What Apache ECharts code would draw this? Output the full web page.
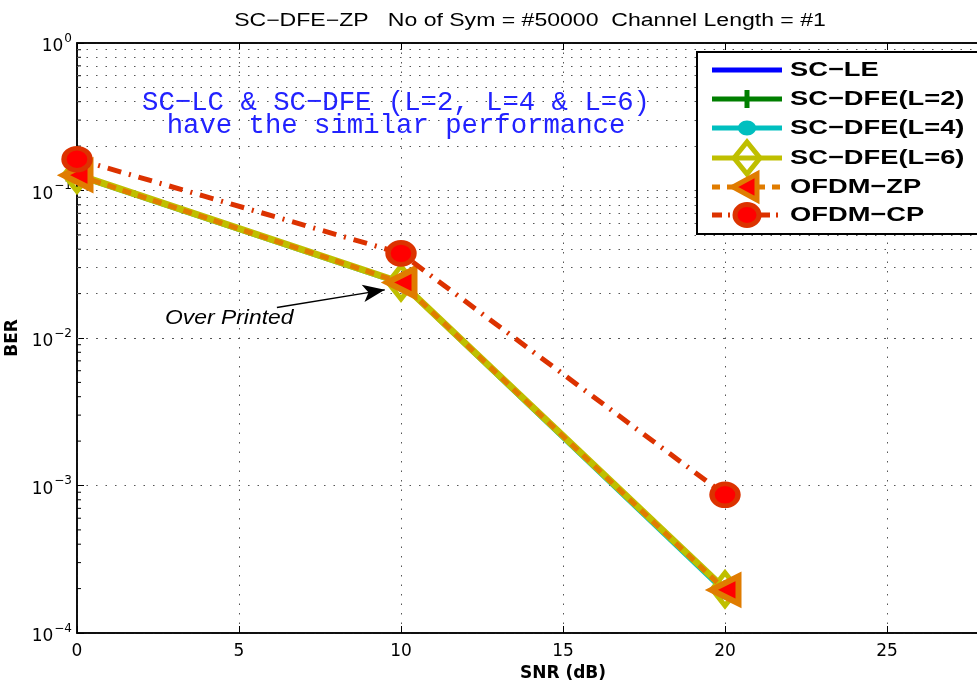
<!DOCTYPE html>
<html>
<head>
<meta charset="utf-8">
<script src="https://cdn.jsdelivr.net/npm/echarts@6/dist/echarts.min.js"></script>
<style>html,body{margin:0;padding:0;background:#fff;overflow:hidden;width:977px;height:684px}#c{width:1100px;height:684px}</style>
</head>
<body>
<div id="c"></div>
<script>
// ---- data ----
const snr = [0, 10, 20];
const scLE   = [0.127, 0.0237, 1.97e-4];
const scDFE2 = [0.127, 0.0237, 1.97e-4];
const scDFE4 = [0.126, 0.0235, 1.90e-4];
const scDFE6 = [0.128, 0.0238, 1.98e-4];
const ofdmZP = [0.127, 0.0238, 1.96e-4];
const ofdmCP = [0.163, 0.0375, 8.65e-4];
const seriesNames = ['SC\u2212LE', 'SC\u2212DFE(L=2)', 'SC\u2212DFE(L=4)', 'SC\u2212DFE(L=6)', 'OFDM\u2212ZP', 'OFDM\u2212CP'];
const xTicks = [0, 5, 10, 15, 20, 25, 30];
const yDecades = [1e-4, 1e-3, 1e-2, 1e-1, 1];
const yExponents = ['\u22124', '\u22123', '\u22122', '\u22121', '0'];
const minorMult = [2, 3, 4, 5, 6, 7, 8, 9];
const arrowFrom = [6.17, 0.0161];
const arrowTo = [9.5, 0.0212];
const titleText = 'SC\u2212DFE\u2212ZP   No of Sym = #50000  Channel Length = #1';
const noteLines = ['SC\u2212LC & SC\u2212DFE (L=2, L=4 & L=6)', 'have the similar performance'];
const overText = 'Over Printed';

const pairs = v => snr.map((x, i) => [x, v[i]]);
const minorVals = [];
yDecades.slice(0, -1).forEach(d => minorMult.forEach(m => minorVals.push(d * m)));

const FONT = '"Liberation Sans", Arial, Helvetica, sans-serif';
const TICKFONT = '"DejaVu Sans", sans-serif';
const dotted = { color: '#555', width: 1, type: [1.5, 8] };

const C = {
  le: '#0000FF', l2: '#007F00', l4: '#00BFBF', l6: '#BFBF00',
  zp: '#E07C00', cp: '#DC3200', red: '#FF0000'
};

// ---- custom legend (graphic) ----
const LX0 = 712, LX1 = 782, LXC = 747, LTX = 790;
const legendY = [70, 99, 128, 158, 187, 215];
const legendEls = [
  { type: 'rect', shape: { x: 697, y: 52, width: 300, height: 182 }, style: { fill: '#fff', stroke: '#000', lineWidth: 2 }, z: 100 }
];
const lineStyles = [
  { stroke: C.le, lineWidth: 5 },
  { stroke: C.l2, lineWidth: 5 },
  { stroke: C.l4, lineWidth: 5 },
  { stroke: C.l6, lineWidth: 5 },
  { stroke: C.zp, lineWidth: 5, lineDash: [8, 7] },
  { stroke: C.cp, lineWidth: 5, lineDash: [10, 6, 2, 6] }
];
legendY.forEach((y, i) => {
  legendEls.push({ type: 'line', shape: { x1: LX0, y1: y, x2: LX1, y2: y }, style: lineStyles[i], z: 101 });
  legendEls.push({ type: 'text', x: LTX, y: y, scaleX: 1.3, z: 103,
    style: { text: seriesNames[i], fontSize: 21, fontWeight: 'bold', fontFamily: FONT, fill: '#000', align: 'left', verticalAlign: 'middle' } });
});
legendEls.push({ type: 'rect', shape: { x: LXC - 2.5, y: legendY[1] - 9, width: 5, height: 18 }, style: { fill: C.l2 }, z: 102 });
legendEls.push({ type: 'ellipse', shape: { cx: LXC, cy: legendY[2], rx: 9, ry: 7.5 }, style: { fill: C.l4 }, z: 102 });
legendEls.push({ type: 'polygon', shape: { points: [[LXC - 13, legendY[3]], [LXC, legendY[3] - 16], [LXC + 13, legendY[3]], [LXC, legendY[3] + 16]] }, style: { fill: 'rgba(255,255,255,0)', stroke: C.l6, lineWidth: 5 }, z: 102 });
legendEls.push({ type: 'polygon', shape: { points: [[LXC - 14, legendY[4]], [LXC + 10, legendY[4] - 13], [LXC + 10, legendY[4] + 13]] }, style: { fill: C.red, stroke: C.zp, lineWidth: 5, lineJoin: 'miter' }, z: 102 });
legendEls.push({ type: 'ellipse', shape: { cx: LXC, cy: legendY[5], rx: 12, ry: 10.5 }, style: { fill: C.red, stroke: C.cp, lineWidth: 5 }, z: 102 });

const chart = echarts.init(document.getElementById('c'));
const option = {
  animation: false,
  backgroundColor: '#fff',
  grid: { left: 77, top: 43, bottom: 51, right: 51, outerBoundsMode: 'none', show: true, borderColor: '#000', borderWidth: 1.5, backgroundColor: 'transparent' },
  xAxis: [{
    type: 'value', min: xTicks[0], max: xTicks[xTicks.length - 1], interval: 5,
    axisLine: { show: true, lineStyle: { color: '#000', width: 1.5 } },
    axisTick: { show: true, inside: true, length: 7, lineStyle: { color: '#000' } },
    axisLabel: { fontSize: 17, color: '#000', margin: 10, fontFamily: TICKFONT },
    splitLine: { show: true, lineStyle: dotted },
    name: 'SNR (dB)', nameLocation: 'middle', nameGap: 29,
    nameTextStyle: { fontSize: 17, fontWeight: 'bold', color: '#000', fontFamily: TICKFONT }
  }, {
    type: 'value', position: 'top', min: xTicks[0], max: xTicks[xTicks.length - 1], interval: 5,
    axisLine: { show: true, lineStyle: { color: '#000', width: 1.5 } },
    axisTick: { show: true, inside: true, length: 7, lineStyle: { color: '#000' } },
    axisLabel: { show: false }, splitLine: { show: false }
  }],
  yAxis: [{
    type: 'log', logBase: 10, min: yDecades[0], max: yDecades[yDecades.length - 1],
    axisLine: { show: true, lineStyle: { color: '#000', width: 1.5 } },
    axisTick: { show: true, inside: true, length: 7, lineStyle: { color: '#000' } },
    splitLine: { show: true, lineStyle: dotted },
    axisLabel: {
      margin: 5, color: '#000',
      formatter: v => {
        const e = Math.round(Math.log10(v));
        const idx = yDecades.findIndex(d => Math.abs(Math.log10(d) - e) < 1e-6);
        return '{b|10}{s|' + yExponents[idx] + '}';
      },
      rich: {
        b: { fontSize: 17, fontFamily: TICKFONT, color: '#000', padding: [8, 0, 0, 0] },
        s: { fontSize: 12, fontFamily: TICKFONT, color: '#000', padding: [0, 0, 9, 1] }
      }
    },
    name: 'BER', nameLocation: 'middle', nameGap: 47, nameRotate: 90,
    nameTextStyle: { fontSize: 17, fontWeight: 'bold', color: '#000', fontFamily: TICKFONT }
  }],
  series: [
    { name: 'minor', type: 'line', data: [], silent: true, z: 1,
      markLine: { silent: true, symbol: 'none', label: { show: false }, lineStyle: dotted,
        data: minorVals.map(v => ({ yAxis: v })) } },
    { name: 'minorTicks', type: 'custom', silent: true, z: 1,
      data: minorVals.map(v => [xTicks[0], v]),
      renderItem: (params, api) => {
        const p = api.coord([api.value(0), api.value(1)]);
        return { type: 'line', shape: { x1: p[0], y1: p[1], x2: p[0] + 4, y2: p[1] }, style: { stroke: '#000', lineWidth: 1 } };
      } },
    { name: seriesNames[0], type: 'line', data: pairs(scLE), symbol: 'none',
      lineStyle: { color: C.le, width: 4 }, itemStyle: { color: C.le }, z: 2 },
    { name: seriesNames[1], type: 'line', data: pairs(scDFE2),
      symbol: 'path://M-1.4,-8 H1.4 V-1.4 H8 V1.4 H1.4 V8 H-1.4 V1.4 H-8 V-1.4 H-1.4 Z', symbolSize: 18, showAllSymbol: true,
      lineStyle: { color: C.l2, width: 5 }, itemStyle: { color: C.l2 }, z: 3 },
    { name: seriesNames[2], type: 'line', data: pairs(scDFE4), symbol: 'circle', symbolSize: [18, 15],
      lineStyle: { color: C.l4, width: 5 }, itemStyle: { color: C.l4 }, z: 4 },
    { name: seriesNames[3], type: 'line', data: pairs(scDFE6), symbol: 'diamond', symbolSize: [26, 33],
      lineStyle: { color: C.l6, width: 7 }, itemStyle: { color: 'rgba(255,255,255,0)', borderColor: C.l6, borderWidth: 5 }, z: 5 },
    { name: seriesNames[4], type: 'line', data: pairs(ofdmZP), symbol: 'path://M0,5 L10,0 L10,10 Z', symbolSize: [27, 27],
      lineStyle: { color: C.zp, width: 5, type: [9, 7] }, itemStyle: { color: C.red, borderColor: C.zp, borderWidth: 6 }, z: 6 },
    { name: seriesNames[5], type: 'line', data: pairs(ofdmCP), symbol: 'circle', symbolSize: [26, 22],
      lineStyle: { color: C.cp, width: 5, type: [14, 8, 2, 8] }, itemStyle: { color: C.red, borderColor: C.cp, borderWidth: 5 }, z: 7 },
    { name: 'arrow', type: 'line', data: [], silent: true, z: 8,
      markLine: { silent: true, symbol: ['none', 'arrow'], symbolSize: [13, 22], label: { show: false },
        lineStyle: { color: '#000', width: 1.3, type: 'solid' },
        data: [[{ coord: arrowFrom }, { coord: arrowTo }]] } }
  ],
  graphic: [
    { type: 'text', x: 530, y: 21, scaleX: 1.28, style: { text: titleText, fontSize: 18, fontFamily: FONT, fill: '#000', align: 'center', verticalAlign: 'middle' } },
    { type: 'text', x: 396, y: 103, z: 10, style: { text: noteLines[0], fontSize: 27.3, fontFamily: '"Liberation Mono", "DejaVu Sans Mono", monospace', fill: '#2222FF', align: 'center', verticalAlign: 'middle' } },
    { type: 'text', x: 396, y: 126, z: 10, style: { text: noteLines[1], fontSize: 27.3, fontFamily: '"Liberation Mono", "DejaVu Sans Mono", monospace', fill: '#2222FF', align: 'center', verticalAlign: 'middle' } },
    { type: 'text', x: 165, y: 318, z: 10, scaleX: 1.09, style: { text: overText, fontSize: 21, fontStyle: 'italic', fontFamily: FONT, fill: '#000', align: 'left', verticalAlign: 'middle' } }
  ].concat(legendEls)
};
chart.setOption(option);
</script>
</body>
</html>
